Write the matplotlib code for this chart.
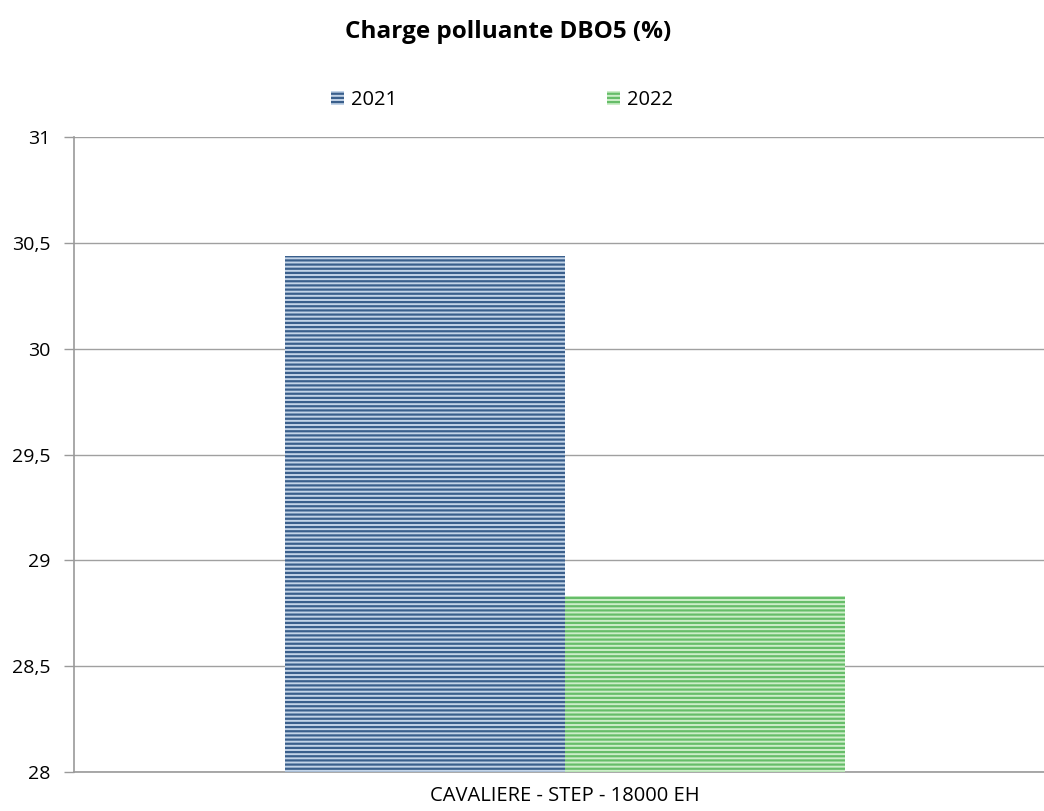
import numpy as np
import matplotlib.pyplot as plt

plt.rcParams['font.family'] = ['Open Sans', 'DejaVu Sans']
plt.rcParams['hatch.linewidth'] = 1.6

categories = ['CAVALIERE - STEP - 18000 EH']
years = ['2021', '2022']
values_2021 = [30.44]
values_2022 = [28.83]
y_ticks = [28, 28.5, 29, 29.5, 30, 30.5, 31]
y_tick_labels = ['28', '28,5', '29', '29,5', '30', '30,5', '31']

fig = plt.figure(figsize=(10.44, 8.11), dpi=100)
ax = fig.add_axes([74 / 1044, 39 / 811, 982 / 1044, 635 / 811])

x = np.arange(len(categories))
width = 0.285
styles = [
    dict(facecolor='#c3d4e8', edgecolor='#3a5f8c'),
    dict(facecolor='#cdeec9', edgecolor='#66bd69'),
]
bars = []
for i, (vals, st) in enumerate(zip([values_2021, values_2022], styles)):
    b = ax.bar(x + (i - 0.5) * width, vals, width, bottom=0,
               facecolor=st['facecolor'], edgecolor=st['edgecolor'],
               hatch='----', linewidth=0, label=years[i], zorder=3)
    bars.append(b)

ax.set_xlim(-0.5, 0.5)
ax.set_ylim(28, 31)
ax.set_yticks(y_ticks)
ax.set_yticklabels(y_tick_labels, fontsize=14)
ax.set_xticks(x)
ax.set_xticklabels(categories, fontsize=14.5)
ax.tick_params(axis='x', length=0, pad=10)
ax.tick_params(axis='y', length=7, width=1, color='#9a9a9a', pad=10)

ax.grid(axis='y', color='#a0a0a0', linewidth=1, zorder=0)
for side in ['top', 'right']:
    ax.spines[side].set_visible(False)
for side in ['left', 'bottom']:
    ax.spines[side].set_color('#9a9a9a')
    ax.spines[side].set_linewidth(1.2)

fig.text(508 / 1044, 1 - 32 / 811, 'Charge polluante DBO5 (%)', ha='center',
         va='center', fontsize=17.5, fontweight='bold')

leg = fig.legend(handles=bars, labels=years, loc='center',
                 bbox_to_anchor=(502 / 1044, 1 - 100 / 811), ncol=2,
                 frameon=False, fontsize=14.5, handlelength=0.65,
                 handleheight=0.65, handletextpad=0.35, columnspacing=10.4)

fig.savefig('out.png', dpi=100)
